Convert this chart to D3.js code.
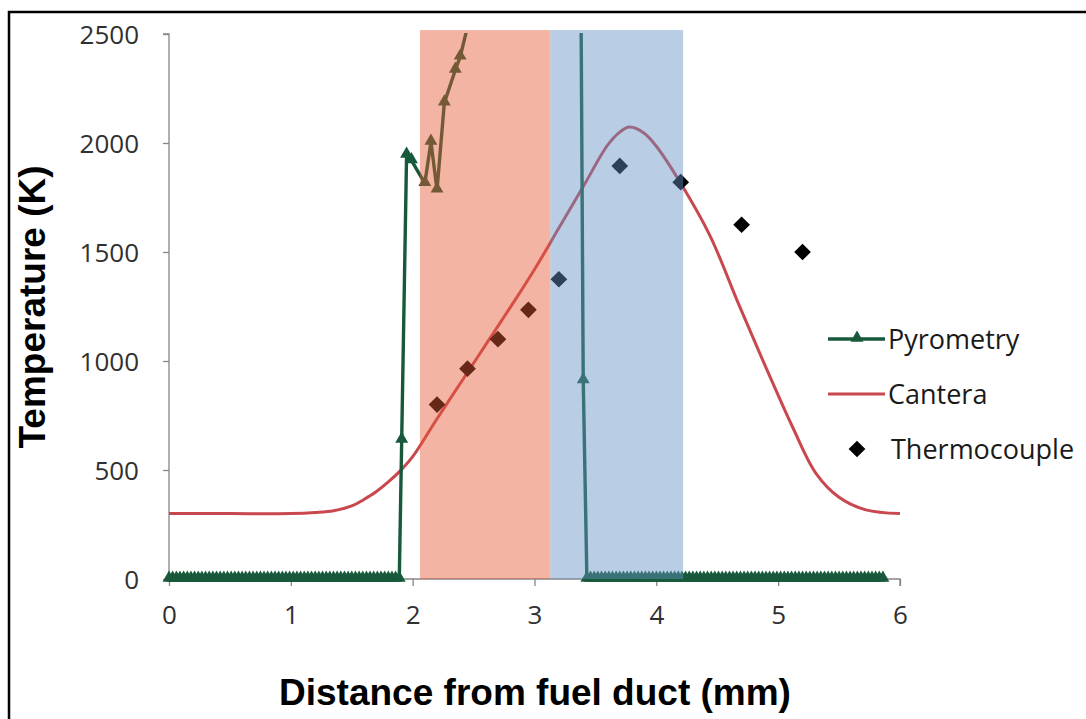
<!DOCTYPE html>
<html>
<head>
<meta charset="utf-8">
<script src="https://cdn.jsdelivr.net/npm/d3@7"></script>
<style>
  body { margin: 0; background: #fff; }
  svg { display: block; }
</style>
</head>
<body>
<div id="chart"></div>
<script>
// Pyrometry: flat zero readings on both sides, the measured peak in between
const pyroZeroLeft = [0, 0.03, 0.06, 0.09, 0.12, 0.15, 0.18, 0.21, 0.24, 0.27, 0.3, 0.33, 0.36, 0.39, 0.42, 0.45,
  0.48, 0.51, 0.54, 0.57, 0.6, 0.63, 0.66, 0.69, 0.72, 0.75, 0.78, 0.81, 0.84, 0.87, 0.9, 0.93, 0.96, 0.99,
  1.02, 1.05, 1.08, 1.11, 1.14, 1.17, 1.2, 1.23, 1.26, 1.29, 1.32, 1.35, 1.38, 1.41, 1.44, 1.47, 1.5, 1.53,
  1.56, 1.59, 1.62, 1.65, 1.68, 1.71, 1.74, 1.77, 1.8, 1.83, 1.86, 1.89];
const pyroPeakX = [1.91, 1.95, 1.99, 2.10, 2.15, 2.20, 2.26, 2.35, 2.39, 2.44, 2.50, 3.38, 3.40];
const pyroPeakT = [638, 1945, 1920, 1815, 2005, 1785, 2185, 2335, 2395, 2510, 2800, 2800, 910];
const pyroZeroRight = [3.43, 3.46, 3.49, 3.52, 3.55, 3.58, 3.61, 3.64, 3.67, 3.7, 3.73, 3.76, 3.79, 3.82, 3.85,
  3.88, 3.91, 3.94, 3.97, 4.0, 4.03, 4.06, 4.09, 4.12, 4.15, 4.18, 4.21, 4.24, 4.27, 4.3, 4.33, 4.36, 4.39,
  4.42, 4.45, 4.48, 4.51, 4.54, 4.57, 4.6, 4.63, 4.66, 4.69, 4.72, 4.75, 4.78, 4.81, 4.84, 4.87, 4.9, 4.93,
  4.96, 4.99, 5.02, 5.05, 5.08, 5.11, 5.14, 5.17, 5.2, 5.23, 5.26, 5.29, 5.32, 5.35, 5.38, 5.41, 5.44, 5.47,
  5.5, 5.53, 5.56, 5.59, 5.62, 5.65, 5.68, 5.71, 5.74, 5.77, 5.8, 5.83, 5.86];

// Cantera simulation
const canteraX = [0, 0.5, 1.0, 1.2, 1.35, 1.5, 1.6, 1.7, 1.8, 1.9, 2.0, 2.2, 2.4, 2.6, 2.8, 3.0, 3.2, 3.4, 3.6,
  3.7, 3.78, 3.9, 4.0, 4.2, 4.44, 4.68, 4.9, 5.12, 5.31, 5.5, 5.72, 6.0];
const canteraT = [300, 300, 300, 305, 313, 335, 365, 400, 445, 497, 561, 735, 905, 1075, 1245, 1420, 1610, 1800,
  1990, 2050, 2073, 2045, 1985, 1815, 1575, 1255, 970, 695, 485, 375, 317, 300];

// Thermocouple
const thermoX = [2.2, 2.45, 2.7, 2.95, 3.2, 3.7, 4.2, 4.7, 5.2];
const thermoT = [800, 965, 1100, 1235, 1375, 1895, 1820, 1625, 1500];

// shaded zones (mm) and their top (K)
const zoneStart = [2.06, 3.13];
const zoneEnd = [3.13, 4.22];
const zoneTop = 2518;

const xTicks = [0, 1, 2, 3, 4, 5, 6];
const yTicks = [0, 500, 1000, 1500, 2000, 2500];
const legendNames = ["Pyrometry", "Cantera", "Thermocouple"];

const green = "#17593a";
const red = "#c9474f";
const zoneColors = ["rgb(231,89,53)", "rgb(100,144,196)"];

const width = 1086, height = 719;
const svg = d3.select("#chart").append("svg")
  .attr("width", width)
  .attr("height", height);

const x = d3.scaleLinear().domain([0, 6]).range([169, 900]);
const y = d3.scaleLinear().domain([0, 2500]).range([579, 34]);

// outer frame (only top and left edges show)
svg.append("rect")
  .attr("x", 9).attr("y", 12)
  .attr("width", width).attr("height", height)
  .attr("fill", "none").attr("stroke", "#000").attr("stroke-width", 2.5);

svg.append("clipPath").attr("id", "plot")
  .append("rect")
  .attr("x", x(0) - 8).attr("y", y(2500) - 1)
  .attr("width", x(6) - x(0) + 16).attr("height", y(0) - y(2500) + 12);

// axes
const xAxis = svg.append("g")
  .attr("transform", `translate(0,${y(0)})`)
  .call(d3.axisBottom(x).tickValues(xTicks).tickSize(7).tickFormat(d3.format("d")));
const yAxis = svg.append("g")
  .attr("transform", `translate(${x(0)},0)`)
  .call(d3.axisLeft(y).tickValues(yTicks).tickSize(6).tickFormat(d3.format("d")));

[xAxis, yAxis].forEach(a => {
  a.select(".domain").attr("stroke", "#868686").attr("stroke-width", 1.3);
  a.selectAll(".tick line").attr("stroke", "#868686").attr("stroke-width", 1.3);
  a.selectAll(".tick text")
    .attr("fill", "#303030")
    .style("font-family", "'Open Sans', sans-serif")
    .style("font-size", "26px");
});
xAxis.select(".domain").attr("d", `M${x(0)},0H${x(6)}V7`);
xAxis.selectAll(".tick text").attr("y", 45).attr("dy", 0);
yAxis.select(".domain").attr("d", `M-6,${y(2500)}H0V${y(0)}`);
yAxis.selectAll(".tick text").attr("x", -30).attr("dy", "0.36em");

// series
const plot = svg.append("g").attr("clip-path", "url(#plot)");

const canteraPts = canteraX.map((d, i) => [d, canteraT[i]]);
plot.append("path")
  .datum(canteraPts)
  .attr("fill", "none")
  .attr("stroke", red)
  .attr("stroke-width", 3)
  .attr("d", d3.line().x(d => x(d[0])).y(d => y(d[1])).curve(d3.curveCatmullRom.alpha(0.5)));

const pyroPts = pyroZeroLeft.map(d => [d, 0])
  .concat(pyroPeakX.map((d, i) => [d, pyroPeakT[i]]))
  .concat(pyroZeroRight.map(d => [d, 0]));

plot.append("path")
  .datum(pyroPts)
  .attr("fill", "none")
  .attr("stroke", green)
  .attr("stroke-width", 3.4)
  .attr("stroke-linejoin", "round")
  .attr("d", d3.line().x(d => x(d[0])).y(d => y(d[1])));

const tri = d3.symbol(d3.symbolTriangle, 72);
plot.selectAll(".pyro-mark")
  .data(pyroPts.filter(d => d[1] <= 2500))
  .join("path")
  .attr("class", "pyro-mark")
  .attr("transform", d => `translate(${x(d[0])},${y(d[1]) - 1})`)
  .attr("d", tri)
  .attr("fill", green);

const dia = d3.symbol(d3.symbolSquare, 140);
plot.selectAll(".tc-mark")
  .data(thermoX.map((d, i) => [d, thermoT[i]]))
  .join("path")
  .attr("class", "tc-mark")
  .attr("transform", d => `translate(${x(d[0])},${y(d[1])}) rotate(45)`)
  .attr("d", dia)
  .attr("fill", "#000");

// translucent zones laid over the series
svg.selectAll(".zone")
  .data(zoneStart)
  .join("rect")
  .attr("class", "zone")
  .attr("x", d => x(d))
  .attr("y", y(zoneTop))
  .attr("width", (d, i) => x(zoneEnd[i]) - x(d))
  .attr("height", y(0) - y(zoneTop))
  .attr("fill", (d, i) => zoneColors[i])
  .attr("fill-opacity", 0.45);

// legend
const legend = svg.append("g")
  .style("font-family", "'Open Sans', sans-serif")
  .style("font-size", "27px")
  .attr("fill", "#1a1a1a");
const legendY = [339, 394, 449];

legend.append("line")
  .attr("x1", 828).attr("x2", 885).attr("y1", legendY[0]).attr("y2", legendY[0])
  .attr("stroke", green).attr("stroke-width", 3.4);
legend.append("path")
  .attr("transform", `translate(857,${legendY[0] - 1})`)
  .attr("d", tri).attr("fill", green);
legend.append("line")
  .attr("x1", 828).attr("x2", 885).attr("y1", legendY[1]).attr("y2", legendY[1])
  .attr("stroke", red).attr("stroke-width", 3);
legend.append("path")
  .attr("transform", `translate(857,${legendY[2]}) rotate(45)`)
  .attr("d", dia).attr("fill", "#000");

legend.selectAll("text")
  .data(legendNames)
  .join("text")
  .attr("x", (d, i) => i === 2 ? 891 : 888)
  .attr("y", (d, i) => legendY[i] + 10)
  .text(d => d);

// axis titles
svg.append("text")
  .attr("transform", "translate(45,307) rotate(-90)")
  .attr("text-anchor", "middle")
  .style("font-family", "'Liberation Sans', Arial, sans-serif")
  .style("font-weight", "bold")
  .style("font-size", "37px")
  .text("Temperature (K)");

svg.append("text")
  .attr("x", 535).attr("y", 705)
  .attr("text-anchor", "middle")
  .style("font-family", "'Liberation Sans', Arial, sans-serif")
  .style("font-weight", "bold")
  .style("font-size", "37px")
  .text("Distance from fuel duct (mm)");
</script>
</body>
</html>
